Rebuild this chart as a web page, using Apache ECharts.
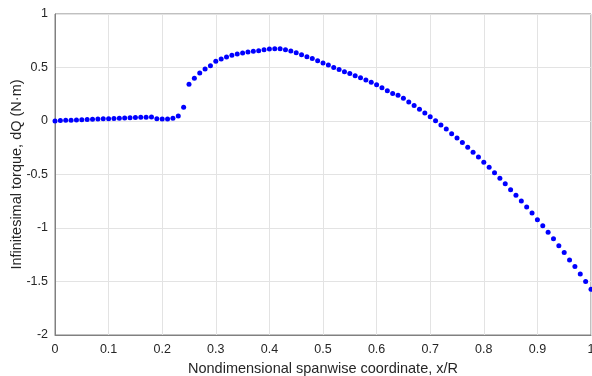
<!DOCTYPE html>
<html><head><meta charset="utf-8">
<script src="https://cdn.jsdelivr.net/npm/echarts@6/dist/echarts.min.js"></script>
<style>html,body{margin:0;padding:0;background:#fff}#c{width:592px;height:376px}</style>
</head><body><div id="c"></div>
<script>
var xTicks = [0,0.1,0.2,0.3,0.4,0.5,0.6,0.7,0.8,0.9,1];
var yTicks = [-2,-1.5,-1,-0.5,0,0.5,1];
var xs = [];
for (var i = 0; i <= 100; i++) xs.push(i / 100);
var ys = [
 0.000,0.004,0.006,0.008,0.010,0.012,0.014,0.016,0.018,0.020,
 0.022,0.024,0.026,0.028,0.030,0.032,0.034,0.036,0.038,0.020,
 0.018,0.018,0.026,0.047,0.128,0.344,0.400,0.449,0.486,0.517,
 0.558,0.579,0.598,0.614,0.626,0.636,0.645,0.651,0.657,0.666,
 0.673,0.676,0.676,0.666,0.654,0.638,0.620,0.601,0.583,0.564,
 0.542,0.523,0.500,0.481,0.461,0.443,0.424,0.405,0.383,0.363,
 0.339,0.311,0.283,0.258,0.240,0.212,0.178,0.146,0.109,0.075,
 0.040,0.003,-0.037,-0.075,-0.118,-0.159,-0.202,-0.246,-0.291,-0.336,
 -0.385,-0.432,-0.483,-0.534,-0.586,-0.642,-0.695,-0.748,-0.804,-0.860,
 -0.922,-0.980,-1.040,-1.100,-1.166,-1.230,-1.300,-1.360,-1.430,-1.500,
 -1.573
];
var pts = xs.map(function(x, i){ return [x, ys[i]]; });
var fnt = 'Liberation Sans, Arial, Helvetica, sans-serif';
var chart = echarts.init(document.getElementById('c'), null, {renderer:'canvas'});
chart.setOption({
  animation:false,
  backgroundColor:'#ffffff',
  grid:{left:55,right:1,top:14,bottom:41,containLabel:false,outerBoundsMode:'none',
    show:true,borderColor:'#808080',borderWidth:1},
  xAxis:{type:'value',min:0,max:1,interval:0.1,
    name:'Nondimensional spanwise coordinate, x/R',nameLocation:'middle',nameGap:26,
    nameMoveOverlap:false,
    nameTextStyle:{fontFamily:fnt,fontSize:14.5,color:'#262626'},
    axisLine:{show:true,onZero:false,lineStyle:{color:'#808080'}},
    axisTick:{show:false},
    axisLabel:{fontFamily:fnt,fontSize:12.5,color:'#262626',margin:8,
      formatter:function(v){ var t = xTicks.find(function(a){return Math.abs(a-v)<1e-9;}); return t===undefined?'':String(t);}},
    splitLine:{show:true,lineStyle:{color:'#e3e3e3',width:1}}},
  yAxis:{type:'value',min:-2,max:1,interval:0.5,
    name:'Infinitesimal torque, dQ (N·m)',nameLocation:'middle',nameGap:31,nameRotate:90,
    nameMoveOverlap:false,
    nameTextStyle:{fontFamily:fnt,fontSize:14.5,color:'#262626'},
    axisLine:{show:true,onZero:false,lineStyle:{color:'#808080'}},
    axisTick:{show:false},
    axisLabel:{fontFamily:fnt,fontSize:12.5,color:'#262626',margin:7,
      formatter:function(v){ var t = yTicks.find(function(a){return Math.abs(a-v)<1e-9;}); return t===undefined?'':String(t);}},
    splitLine:{show:true,lineStyle:{color:'#e3e3e3',width:1}}},
  series:[{type:'scatter',data:pts,symbol:'circle',symbolSize:5,
    itemStyle:{color:'#0000ff',opacity:1},clip:false}]
});
</script></body></html>
